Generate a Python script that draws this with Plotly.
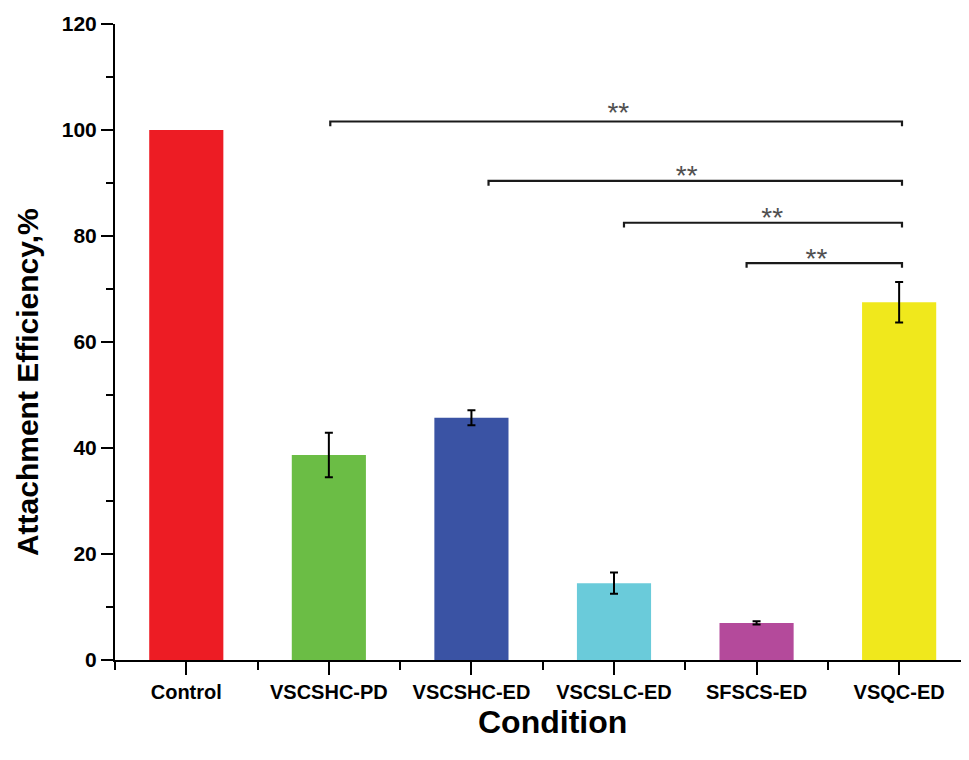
import plotly.graph_objects as go

categories = ["Control", "VSCSHC-PD", "VSCSHC-ED", "VSCSLC-ED", "SFSCS-ED", "VSQC-ED"]
values = [100.0, 38.7, 45.7, 14.5, 7.0, 67.5]
errors = [None, 4.2, 1.4, 2.0, 0.3, 3.8]
colors = ["#ED1C24", "#6BBD45", "#3A53A4", "#6ACBDA", "#B44A9B", "#F0E81C"]

# significance brackets (left x, right x, y level) in data units
bracket_left = [1.01, 2.12, 3.07, 3.93]
bracket_right = [5.02, 5.02, 5.02, 5.02]
bracket_y = [101.6, 90.4, 82.5, 74.9]
star_x = [3.03, 3.51, 4.11, 4.42]
star_y = [102.8, 91.0, 83.0, 75.3]
star_text = ["**", "**", "**", "**"]

y_ticks = [0, 20, 40, 60, 80, 100, 120]

FONT = "Arial, 'Liberation Sans', sans-serif"

x_pos = list(range(len(categories)))

fig = go.Figure()
fig.add_trace(go.Bar(
    x=x_pos, y=values, width=0.52,
    marker=dict(color=colors, line=dict(width=0)),
    showlegend=False,
))

# error bars only for the bars that have them
err_idx = [i for i, e in enumerate(errors) if e is not None]
fig.add_trace(go.Scatter(
    x=[x_pos[i] for i in err_idx], y=[values[i] for i in err_idx],
    mode="markers", marker=dict(size=0.1, opacity=0),
    error_y=dict(type="data", array=[errors[i] for i in err_idx], visible=True,
                 color="black", thickness=2, width=4),
    showlegend=False, hoverinfo="skip",
))

tick_drop = 0.9
for xl, xr, yb in zip(bracket_left, bracket_right, bracket_y):
    fig.add_trace(go.Scatter(
        x=[xl, xl, xr, xr], y=[yb - tick_drop, yb, yb, yb - tick_drop],
        mode="lines", line=dict(color="#1a1a1a", width=2.2),
        showlegend=False, hoverinfo="skip",
    ))

fig.add_trace(go.Scatter(
    x=star_x, y=star_y, text=star_text, mode="text",
    textfont=dict(family=FONT, size=28, color="#505050"),
    showlegend=False, hoverinfo="skip",
))

fig.update_layout(
    width=961, height=752,
    margin=dict(l=107, r=0, t=16, b=100),
    plot_bgcolor="white", paper_bgcolor="white",
    font=dict(family=FONT, color="black"),
    xaxis=dict(
        range=[-0.5, 5.49], tickmode="array", tickvals=x_pos,
        ticktext=["<b>%s</b>" % c for c in categories],
        tickfont=dict(family=FONT, size=20, color="black"),
        ticks="outside", ticklen=13, tickwidth=2, tickcolor="black",
        showline=True, linecolor="black", linewidth=2,
        showgrid=False, zeroline=False,
        minor=dict(tick0=-0.5, dtick=1, ticks="outside", ticklen=8,
                   tickwidth=2, tickcolor="black", showgrid=False),
    ),
    yaxis=dict(
        range=[0, 120], tickmode="array", tickvals=y_ticks,
        ticktext=["<b>%d</b>" % v for v in y_ticks],
        tickfont=dict(family=FONT, size=21, color="black"),
        ticks="outside", ticklen=12, tickwidth=2, tickcolor="black",
        showline=True, linecolor="black", linewidth=2,
        showgrid=False, zeroline=False,
        minor=dict(tick0=0, dtick=10, ticks="outside", ticklen=7,
                   tickwidth=2, tickcolor="black", showgrid=False),
    ),
    annotations=[
        dict(text="<b>Condition</b>", xref="paper", yref="paper",
             x=0.512, y=-0.098, xanchor="center", yanchor="middle",
             showarrow=False, font=dict(family=FONT, size=32, color="black")),
        dict(text="<b>Attachment Efficiency,%</b>", xref="paper", yref="paper",
             x=-0.103, y=0.437, xanchor="center", yanchor="middle",
             textangle=-90, showarrow=False,
             font=dict(family=FONT, size=30, color="black")),
    ],
)

fig.write_html("out.html")
